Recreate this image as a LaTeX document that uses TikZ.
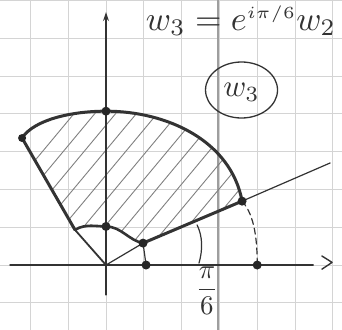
\documentclass[tikz,border=0pt]{standalone}
\usetikzlibrary{arrows.meta}
\begin{document}
\begin{tikzpicture}[x=37.8pt,y=37.8pt,
  ink/.style={draw=black!80, line cap=round, line join=round},
  thinink/.style={ink, line width=1.2pt},
  thickink/.style={ink, line width=3pt},
  dot/.style={circle, fill=black!85, inner sep=0pt, minimum size=9pt},
  gridline/.style={draw=black!17, line width=0.9pt},
  hatch/.style={draw=black!50, line width=0.9pt, line cap=round},
  label/.style={text=black!80, inner sep=0pt}]
\useasboundingbox (-2.804,-1.693) rectangle (6.243,7.011);
\clip (-2.804,-1.693) rectangle (6.243,7.011);
\fill[white] (-2.804,-1.693) rectangle (6.243,7.011);
% paper grid
\foreach \x in {-2,...,6} \draw[gridline] (\x,-1.8) -- (\x,7.1);
\foreach \y in {-1,...,7} \draw[gridline] (-2.9,\y) -- (6.3,\y);
\draw[draw=black!38, line width=2.5pt] (2.96,-1.8) -- (2.96,7.1);
% points
\coordinate (O) at (0,0);
\coordinate (P) at (3.60,1.69);
\coordinate (T) at (0,4.07);
\coordinate (L) at (-2.22,3.36);
\coordinate (IL) at (-0.82,0.93);
\coordinate (IT) at (0,1.02);
\coordinate (IR) at (0.98,0.58);
\coordinate (A1) at (1.06,0);
\coordinate (A2) at (4.0,0);
\coordinate (E) at (5.93,2.70);
\coordinate (xs) at (-2.54,0);
\coordinate (xe) at (5.48,0);
\coordinate (ys) at (0,-0.79);
\coordinate (ye) at (0,6.69);
\coordinate (C) at (3.585,4.63);
% hatching
\begin{scope}
\clip (IR) -- (P) .. controls (3.3,3.3) and (1.6,4.07) .. (T)
  .. controls (-0.9,4.07) and (-1.9,3.85) .. (L) -- (IL)
  .. controls (-0.55,1.1) and (-0.25,1.02) .. (IT)
  .. controls (0.4,1.02) and (0.6,0.65) .. (IR) -- cycle;
\foreach \k in {0,...,16} \draw[hatch] (-4.6+\k*0.55,-0.5) -- ++(4.5,5.4);
\end{scope}
% axes
\draw[ink, line width=1.4pt] (xs) -- (xe);
\draw[ink, line width=1.4pt] (5.71,0.24) -- (5.98,0.07) -- (5.71,-0.11);
\draw[ink, line width=1.4pt, -{Stealth[length=9pt,width=6pt]}] (ys) -- (ye);
% rays and edges
\draw[thinink] (O) -- (IR);
\draw[thickink] (IR) -- (P);
\draw[thinink] (P) -- (E);
\draw[ink, line width=1.8pt] (O) -- (IL);
\draw[thickink] (IL) -- (L);
\draw[thickink] (P) .. controls (3.3,3.3) and (1.6,4.07) .. (T)
  .. controls (-0.9,4.07) and (-1.9,3.85) .. (L);
\draw[ink, line width=2.6pt] (IL) .. controls (-0.55,1.1) and (-0.25,1.02) .. (IT)
  .. controls (0.4,1.02) and (0.6,0.65) .. (IR);
\draw[thinink] (IR) -- (A1);
\draw[ink, line width=1.2pt, dash pattern=on 6pt off 4pt] (P) .. controls (3.95,1.3) and (4.0,0.6) .. (A2);
\draw[thinink] (2.46,0.05) .. controls (2.56,0.4) and (2.56,0.75) .. (2.41,1.06);
% dots
\node[dot] (dT) at (T) {};
\node[dot] (dP) at (P) {};
\node[dot, minimum size=8pt] (dL) at (L) {};
\node[dot] (dIT) at (IT) {};
\node[dot] (dIR) at (IR) {};
\node[dot] (dA1) at (A1) {};
\node[dot] (dA2) at (A2) {};
% labels
\node[label, anchor=base west, scale=3.4] (eq) at (1.04,6.2) {$w_3 = e^{\scriptscriptstyle i\pi/6} w_2$};
\draw[ink, line width=1.3pt] (C) ellipse [x radius=36pt, y radius=28pt];
\node[label, scale=3.1] (w3) at ([yshift=-2pt]C) {$w_3$};
\node[label, scale=2.7] (frac) at (2.67,-0.68) {$\displaystyle\frac{\pi}{6}$};
\end{tikzpicture}
\end{document}
